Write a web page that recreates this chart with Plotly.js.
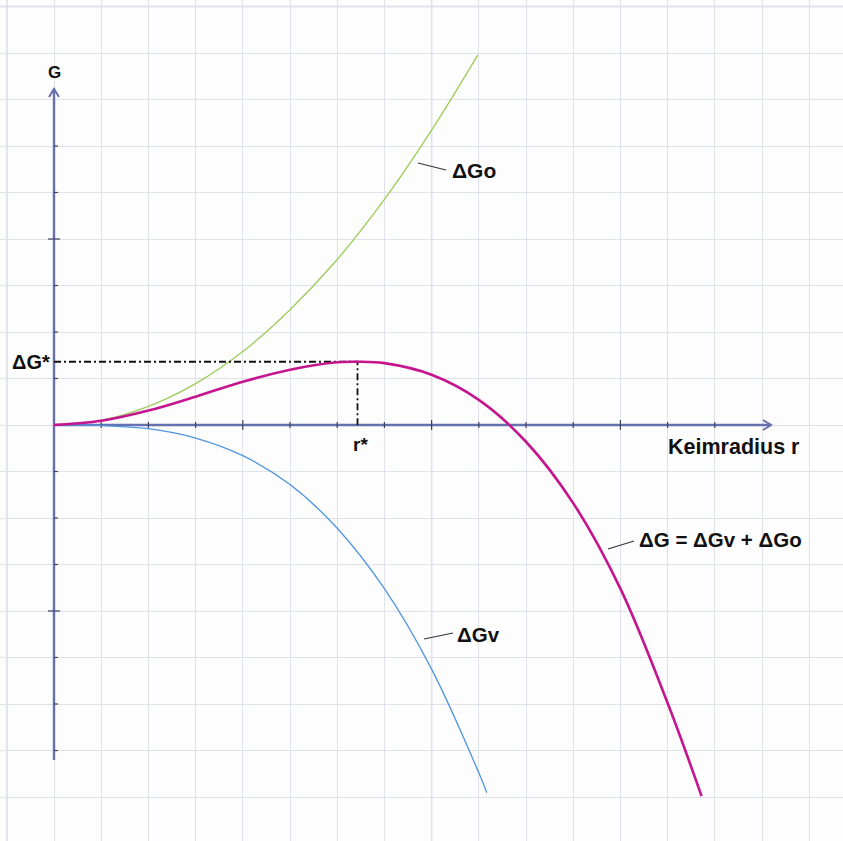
<!DOCTYPE html>
<html>
<head>
<meta charset="utf-8">
<script src="https://cdn.plot.ly/plotly-3.0.1.min.js"></script>
<style>
html,body{margin:0;padding:0;background:#fdfdfd;}
#chart{width:843px;height:841px;}
</style>
</head>
<body>
<div id="chart"></div>
<script>
// ---- data (grid units: 1 = one grid cell) ----
var rGo = [0, 1, 2, 3, 4, 5, 6, 7, 8, 8.98];
var gGo = [0, 0.10, 0.40, 0.89, 1.58, 2.48, 3.56, 4.85, 6.34, 7.96];

var rGv = [0, 1, 2, 3, 4, 5, 6, 7, 8, 9, 9.17];
var gGv = [0, -0.01, -0.08, -0.28, -0.66, -1.28, -2.22, -3.52, -5.25, -7.48, -7.91];

var rG = [0, 1, 2, 3, 4, 5, 6, 6.43, 7, 8, 9, 10, 11, 12, 13, 13.72];
var gG = [0, 0.09, 0.31, 0.61, 0.93, 1.19, 1.35, 1.36, 1.33, 1.08, 0.54, -0.36, -1.68, -3.52, -5.98, -7.98];

var rStar = 6.43;
var gStar = 1.36;

var labels = {
  G: 'G', dGstar: '\u0394G*', rstar: 'r*', xTitle: 'Keimradius r',
  dGo: '\u0394Go', dGv: '\u0394Gv', dG: '\u0394G = \u0394Gv + \u0394Go'
};

// ---- layout helpers (pixel -> data for decorations) ----
var OX = 54, OY = 425, SX = 47.2, SY = 46.5;
function X(px){ return (px - OX) / SX; }
function Y(py){ return (OY - py) / SY; }

var axisCol = '#6770ae';
var tickCol = '#3c4160';
var gridCol = '#e0e2ea';
var majorCol = '#c3c7e8';
var font = 'Liberation Sans, Arial, sans-serif';

var traces = [
  {x: rGo, y: gGo, mode: 'lines', line: {color: '#9ccc5a', width: 1.3, shape: 'spline'}, hoverinfo: 'skip'},
  {x: rGv, y: gGv, mode: 'lines', line: {color: '#4f95e0', width: 1.3, shape: 'spline'}, hoverinfo: 'skip'},
  {x: [0, rStar, rStar], y: [gStar, gStar, 0], mode: 'lines',
   line: {color: '#111111', width: 1.8, dash: '7px,3px,2px,3px'}, hoverinfo: 'skip'},
  {x: rG, y: gG, mode: 'lines', line: {color: '#c4158f', width: 2.6, shape: 'spline'}, hoverinfo: 'skip'}
];

var shapes = [];
// major grid lines
[-1, 8].forEach(function(v){
  shapes.push({type:'line', layer:'between', xref:'x', yref:'paper', x0:v, x1:v, y0:0, y1:1, line:{color:majorCol, width:1.3}});
});
[9].forEach(function(v){
  shapes.push({type:'line', layer:'between', xref:'paper', yref:'y', x0:0, x1:1, y0:v, y1:v, line:{color:majorCol, width:1.3}});
});

// axes
var yTop = Y(89), yBot = Y(760), xEnd = X(771);
shapes.push({type:'line', layer:'between', x0:0, x1:0, y0:yBot, y1:yTop, line:{color:axisCol, width:2.4}});
shapes.push({type:'line', layer:'between', x0:0, x1:xEnd, y0:0, y1:0, line:{color:axisCol, width:2.4}});
// arrow heads (open chevrons)
var ahw = 5, ahl = 8;
shapes.push({type:'path', layer:'between',
  path: 'M' + X(OX-ahw) + ',' + Y(89+ahl) + ' L0,' + yTop + ' L' + X(OX+ahw) + ',' + Y(89+ahl),
  line:{color:axisCol, width:2}});
shapes.push({type:'path', layer:'between',
  path: 'M' + X(771-ahl) + ',' + Y(OY-ahw) + ' L' + xEnd + ',0 L' + X(771-ahl) + ',' + Y(OY+ahw),
  line:{color:axisCol, width:2}});

// ticks on y axis
for (var k = -7; k <= 6; k++) {
  if (k === 0) continue;
  var longT = (Math.abs(k) % 4 === 0);
  shapes.push({type:'line', layer:'between', x0: longT ? X(OX-6) : 0, x1: longT ? X(OX+6) : X(OX+4),
    y0:k, y1:k, line:{color:tickCol, width:1.2}});
}
// ticks on x axis
for (var j = 1; j <= 14; j++) {
  var longX = (j % 4 === 0);
  var h = longX ? 5 : 3;
  shapes.push({type:'line', layer:'between', x0:j, x1:j, y0:Y(OY-h), y1:Y(OY+h), line:{color:tickCol, width:1.2}});
}

// leader lines
shapes.push({type:'line', x0:X(418), y0:Y(163), x1:X(446), y1:Y(170), line:{color:'#333', width:1.2}});
shapes.push({type:'line', x0:X(424), y0:Y(639), x1:X(453), y1:Y(633), line:{color:'#333', width:1.2}});
shapes.push({type:'line', x0:X(608), y0:Y(549), x1:X(634), y1:Y(541), line:{color:'#333', width:1.2}});

function ann(text, px, py, size, xa){
  return {text: text, x: X(px), y: Y(py), xref:'x', yref:'y', showarrow:false,
    xanchor: xa || 'left', yanchor:'middle', borderpad:0,
    font:{family:font, size:size, color:'#111111', weight:'bold'}};
}
var annotations = [
  ann('<b>' + labels.G + '</b>', 54, 72, 17, 'center'),
  ann('<b>' + labels.dGstar + '</b>', 11, 362, 20),
  ann('<b>' + labels.rstar + '</b>', 352, 444, 19),
  ann('<b>' + labels.xTitle + '</b>', 667, 447, 21.5),
  ann('<b>' + labels.dGo + '</b>', 451, 170, 21),
  ann('<b>' + labels.dGv + '</b>', 456, 634, 20.5),
  ann('<b>' + labels.dG + '</b>', 638, 539, 20.5)
];

var layout = {
  width: 843, height: 841,
  margin: {l:0, r:0, t:0, b:0},
  paper_bgcolor: '#fdfdfd', plot_bgcolor: '#fdfdfd',
  showlegend: false,
  xaxis: {range:[X(0), X(843)], dtick:1, tick0:0, showgrid:true, gridcolor:gridCol, gridwidth:1,
          zeroline:false, showticklabels:false, ticks:'', fixedrange:true, showline:false},
  yaxis: {range:[Y(841), Y(0)], dtick:1, tick0:0, showgrid:true, gridcolor:gridCol, gridwidth:1,
          zeroline:false, showticklabels:false, ticks:'', fixedrange:true, showline:false},
  shapes: shapes,
  annotations: annotations
};

Plotly.newPlot('chart', traces, layout, {displayModeBar:false, staticPlot:true});
</script>
</body>
</html>
